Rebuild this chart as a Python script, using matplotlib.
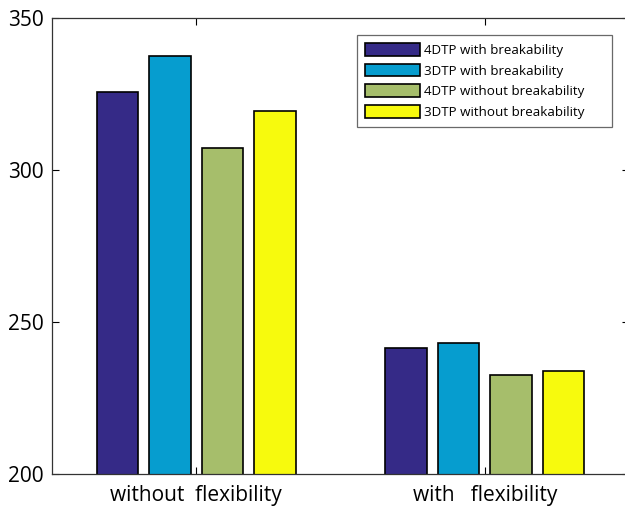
import matplotlib
matplotlib.use("Agg")
import matplotlib.pyplot as plt
import numpy as np

plt.rcParams['font.family'] = ['Open Sans', 'DejaVu Sans']

categories = ["without  flexibility", "with   flexibility"]
series_names = ["4DTP with breakability", "3DTP with breakability",
                "4DTP without breakability", "3DTP without breakability"]
values_4dtp_with = [325.6, 241.5]
values_3dtp_with = [337.4, 243.0]
values_4dtp_without = [307.2, 232.5]
values_3dtp_without = [319.4, 234.0]
series_values = [values_4dtp_with, values_3dtp_with, values_4dtp_without, values_3dtp_without]
colors = ["#352A87", "#069DCF", "#A6BE6B", "#F7FA0D"]
y_ticks = [200, 250, 300, 350]

fig = plt.figure(figsize=(6.25, 5.07), dpi=100)
ax = fig.add_axes([52/625, 1 - 474/507, 577/625, (474-18)/507])

x = np.arange(1, len(categories) + 1)
pitch = 0.182
width = 0.145
for i, (name, vals, c) in enumerate(zip(series_names, series_values, colors)):
    ax.bar(x + (i - 1.5) * pitch, vals, width=width, color=c, edgecolor="black",
           linewidth=1.2, label=name, zorder=2)

ax.set_xlim(0.5, 2.5)
ax.set_ylim(200, 350)
ax.set_yticks(y_ticks)
ax.set_xticks(x)
ax.set_xticklabels(categories, fontsize=15)
ax.tick_params(axis='y', labelsize=15, direction='in', length=5, right=True, width=0.8, pad=6)
ax.tick_params(axis='x', direction='in', length=5, pad=8, width=0.8, top=True)
for s in ax.spines.values():
    s.set_linewidth(0.9)
    s.set_color("#333333")
ax.spines['right'].set_visible(False)

x0 = (357 - 52) / 577
w = (612 - 357) / 577
top = (474 - 35) / 456
leg = ax.legend(loc='upper left', bbox_to_anchor=(x0, top - 0.3, w, 0.3), mode='expand',
                fontsize=9.6, frameon=True, fancybox=False, edgecolor="#444444",
                handlelength=4.1, handleheight=1.1, handletextpad=0.3,
                labelspacing=0.5, borderpad=0.6, borderaxespad=0.0)
leg.get_frame().set_linewidth(0.9)

fig.savefig("out.png", dpi=100)
